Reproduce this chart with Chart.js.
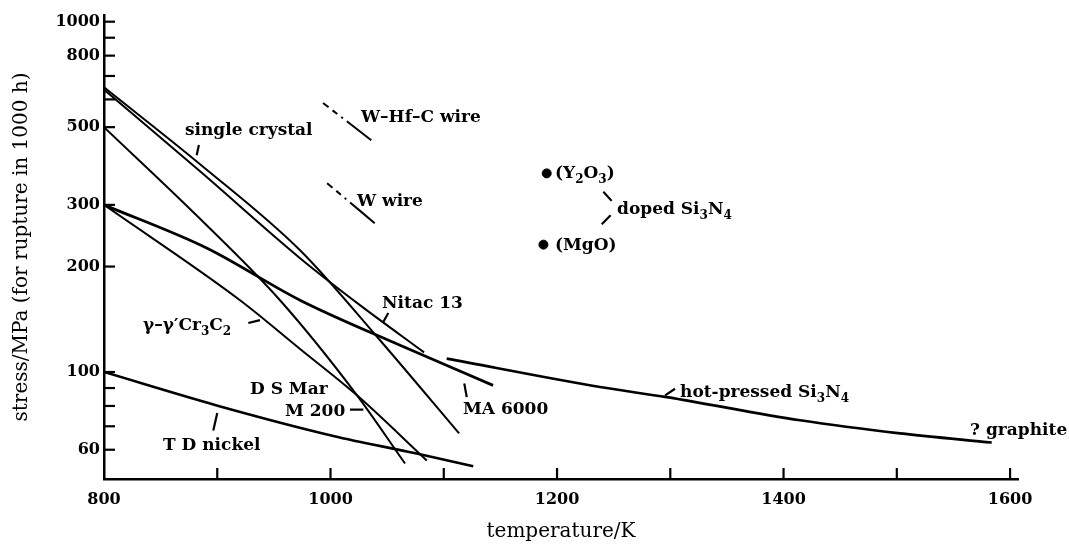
<!DOCTYPE html>
<html><head><meta charset="utf-8">
<script src="https://cdn.jsdelivr.net/npm/chart.js@4"></script>
<style>html,body{margin:0;padding:0;background:#fff}</style>
</head><body>
<canvas id="c" width="1069" height="546"></canvas>
<script>
// ---- axis ticks ----
const xTicks = [800,900,1000,1100,1200,1300,1400,1500,1600];
const xLabelled = [800,1000,1200,1400,1600];
const yTicks = [60,70,80,90,100,200,300,500,600,700,800,900,1000];
const yLabelled = [60,100,200,300,500,800,1000];

// ---- series (temperature K, stress MPa) ----
const singleCrystalT = [800,884.8,973.1,1043.7,1113.5];
const singleCrystalS = [650,392,222.7,123.2,66.8];
const nitacT = [800,884.8,973.1,1026,1082.6];
const nitacS = [640,374,211.3,155.2,113.8];
const ma6000T = [800,891,973.1,1061.4,1143.5];
const ma6000S = [300,225.6,160.3,119.2,91.6];
const gammaT = [800,920.1,973.1,1023.4,1085];
const gammaS = [300,160.3,116.4,85.8,55.9];
const dsMarT = [800,884.8,955.4,1023.4,1065.8];
const dsMarS = [500,273.8,160.3,85.8,54.8];
const tdNickelT = [800,899.5,1002.5,1076,1126];
const tdNickelS = [100,80.3,65.7,58.5,53.8];
const hotPressedT = [1102.6,1238,1296.8,1414.6,1502.9,1583.8];
const hotPressedS = [109.2,90.6,84.8,72.8,66.8,62.9];
const wHfCT = [993.4,1036];
const wHfCS = [585.9,459];
const wWireT = [997,1039];
const wWireS = [346,266];
const dopedT = [1190.9,1188];
const dopedS = [369,231];

// ---- annotation labels ----
const labelText = ['single crystal','W–Hf–C wire','W wire','Nitac 13','MA 6000','D S Mar','M 200','γ–γ′Cr_3C_2','T D nickel','(Y_2O_3)','doped Si_3N_4','(MgO)','hot-pressed Si_3N_4','? graphite'];
const labelT = [871.5,1026.9,1023.4,1045.5,1117,928.9,959.8,834.4,852.1,1198.2,1253,1198.2,1308.6,1564.7];
const labelS = [487.4,530.8,307.4,157.1,78.2,89.2,77.2,136.0,61.7,369.6,291.6,230.1,87.5,68.1];
// pointer strokes
const ptrT1 = [881.8,1046.1,1118.1,1017.2,927.4,896.5,1240.9,1239.5,1295.4];
const ptrS1 = [416,138,92.7,78.1,138,68.1,326.9,264.2,85.8];
const ptrT2 = [883.8,1051,1120.3,1029,937.7,900,1248.2,1247.3,1304.2];
const ptrS2 = [444.5,147.4,84.8,78.1,140.6,76.4,308,280.4,89.6];

const zip = (t,s)=>t.map((v,i)=>({x:v,y:s[i]}));
const FONT = '"DejaVu Serif"';

function line(t,s,w,dash){
  return {data:zip(t,s),showLine:true,pointRadius:0,borderColor:'#000',borderWidth:w,
    borderDash:dash||[],cubicInterpolationMode:'monotone',fill:false};
}

function drawRich(ctx,str,x,y,size){
  let cx=x;
  for(let i=0;i<str.length;i++){
    let ch=str[i], sub=false;
    if(ch==='_'){ sub=true; i++; ch=str[i]; }
    ctx.font = 'bold '+(sub?Math.round(size*0.72):size)+'px '+FONT;
    ctx.fillText(ch,cx,sub?y+size*0.4:y);
    cx+=ctx.measureText(ch).width;
  }
}

const annoPlugin = {
  id:'anno',
  afterDatasetsDraw(chart){
    const {ctx,scales:{x,y}} = chart;
    ctx.save();
    ctx.strokeStyle='#000'; ctx.fillStyle='#000'; ctx.lineWidth=2.2;
    xTicks.forEach(v=>{ if(v===800) return; const px=x.getPixelForValue(v);
      ctx.beginPath(); ctx.moveTo(px,y.bottom); ctx.lineTo(px,y.bottom-11); ctx.stroke(); });
    yTicks.forEach(v=>{ const py=y.getPixelForValue(v);
      ctx.beginPath(); ctx.moveTo(x.left,py); ctx.lineTo(x.left+11,py); ctx.stroke(); });
    ptrT1.forEach((t,i)=>{
      ctx.beginPath();
      ctx.moveTo(x.getPixelForValue(t),y.getPixelForValue(ptrS1[i]));
      ctx.lineTo(x.getPixelForValue(ptrT2[i]),y.getPixelForValue(ptrS2[i]));
      ctx.stroke();
    });
    ctx.textBaseline='middle'; ctx.textAlign='left';
    labelText.forEach((s,i)=>drawRich(ctx,s,x.getPixelForValue(labelT[i]),y.getPixelForValue(labelS[i]),17));
    ctx.restore();
  }
};

const tickFont = {family:FONT,size:16,weight:'bold'};
new Chart(document.getElementById('c'),{
  type:'scatter',
  data:{datasets:[
    line(singleCrystalT,singleCrystalS,2),
    line(nitacT,nitacS,2),
    line(ma6000T,ma6000S,2.8),
    line(gammaT,gammaS,2),
    line(dsMarT,dsMarS,2),
    line(tdNickelT,tdNickelS,2.6),
    line(hotPressedT,hotPressedS,2.6),
    line(wHfCT,wHfCS,2,[7,5,6,5,2,5,40]),
    line(wWireT,wWireS,2,[7,5,6,5,2,5,40]),
    {data:zip(dopedT,dopedS),showLine:false,pointRadius:4.5,pointBackgroundColor:'#000',pointBorderColor:'#000'}
  ]},
  options:{
    responsive:false,animation:false,
    layout:{padding:{top:15,right:51,left:0,bottom:0}},
    plugins:{legend:{display:false},tooltip:{enabled:false}},
    scales:{
      x:{type:'linear',min:800,max:1607,
        afterBuildTicks:s=>{s.ticks=xTicks.map(v=>({value:v}));},
        afterFit:s=>{s.height=67;},
        ticks:{autoSkip:false,maxRotation:0,color:'#000',font:tickFont,padding:11,
          callback:v=>xLabelled.includes(v)?String(v):''},
        grid:{display:true,drawOnChartArea:false,drawTicks:false},
        border:{display:true,color:'#000',width:2.5},
        title:{display:true,text:'temperature/K',color:'#000',font:{family:FONT,size:20},padding:{top:0,bottom:2}}
      },
      y:{type:'logarithmic',min:49.5,max:1045,
        afterBuildTicks:s=>{s.ticks=yTicks.map(v=>({value:v}));},
        afterFit:s=>{s.width=104;},
        ticks:{autoSkip:false,color:'#000',font:tickFont,padding:4,
          callback:v=>yLabelled.includes(v)?String(v):''},
        grid:{display:true,drawOnChartArea:false,drawTicks:false},
        border:{display:true,color:'#000',width:2.5},
        title:{display:true,text:'stress/MPa (for rupture in 1000 h)',color:'#000',font:{family:FONT,size:20},padding:{top:10,bottom:0}}
      }
    }
  },
  plugins:[annoPlugin]
});
</script>
</body></html>
